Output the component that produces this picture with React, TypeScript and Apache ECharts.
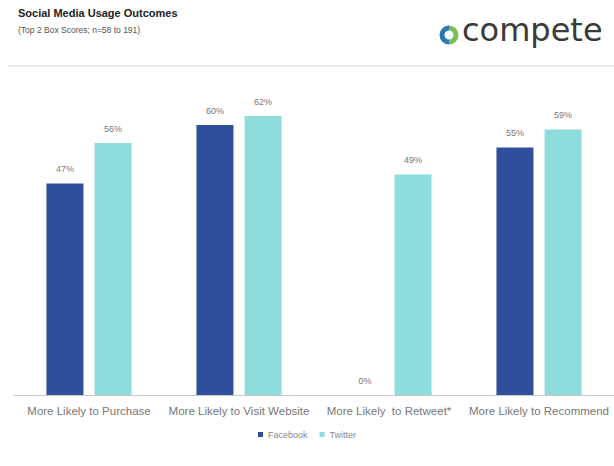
import React, { useEffect, useRef } from "react";
import * as echarts from "echarts";

const categories = [
  "More Likely to Purchase",
  "More Likely to Visit Website",
  "More Likely  to Retweet*",
  "More Likely to Recommend",
];
const facebookValues = [47, 60, 0, 55];
const twitterValues = [56, 62, 49, 59];
const seriesNames = ["Facebook", "Twitter"];

export default function App() {
  const ref = useRef<HTMLDivElement>(null);
  useEffect(() => {
    if (!ref.current) return;
    const chart = echarts.init(ref.current, null, { renderer: "svg" });
    const labelStyle = {
      show: true,
      position: "top" as const,
      formatter: "{c}%",
      color: "#777",
      fontSize: 9,
      fontFamily: "Liberation Sans",
      distance: 10,
    };
    chart.setOption({
      animation: false,
      backgroundColor: "#fff",
      grid: { left: 14, right: -3, top: 80, bottom: 71 },
      legend: {
        bottom: 22,
        left: "center",
        itemWidth: 5,
        itemHeight: 5,
        itemGap: 12,
        icon: "rect",
        textStyle: { color: "#888", fontSize: 9, fontFamily: "Liberation Sans" },
        data: seriesNames,
      },
      xAxis: {
        type: "category",
        data: categories,
        axisLine: { lineStyle: { color: "#c8c8c8" } },
        axisTick: { show: false },
        axisLabel: {
          color: "#777",
          fontSize: 11.5,
          fontFamily: "Liberation Sans",
          margin: 10,
          interval: 0,
        },
      },
      yAxis: {
        type: "value",
        min: 0,
        max: 70,
        show: false,
        splitLine: { show: false },
      },
      graphic: [
        {
          type: "text",
          left: 18,
          top: 7,
          style: {
            text: "Social Media Usage Outcomes",
            fontSize: 11,
            fontWeight: "bold",
            fill: "#222",
            fontFamily: "Liberation Sans",
          },
        },
        {
          type: "text",
          left: 18,
          top: 25,
          style: {
            text: "(Top 2 Box Scores; n=58 to 191)",
            fontSize: 8.5,
            fill: "#555",
            fontFamily: "Liberation Sans",
          },
        },
        {
          type: "line",
          shape: { x1: 8, y1: 66, x2: 614, y2: 66 },
          style: { stroke: "#d8d8d8", lineWidth: 1 },
        },
        {
          type: "arc",
          shape: { cx: 449, cy: 35, r: 7, startAngle: Math.PI / 2, endAngle: (3 * Math.PI) / 2 },
          style: { stroke: "#2a78b5", lineWidth: 5, fill: "none" },
        },
        {
          type: "arc",
          shape: { cx: 449, cy: 35, r: 7, startAngle: -Math.PI / 2, endAngle: Math.PI / 2 },
          style: { stroke: "#78bf5a", lineWidth: 5, fill: "none" },
        },
        {
          type: "text",
          left: 462,
          top: 14,
          style: {
            text: "compete",
            fontSize: 32,
            fill: "#3a3a3a",
            fontFamily: "DejaVu Sans",
          },
        },
      ],
      series: [
        {
          name: seriesNames[0],
          type: "bar",
          data: facebookValues,
          barWidth: 37,
          barGap: "30%",
          itemStyle: { color: "#2f4f9d" },
          label: labelStyle,
        },
        {
          name: seriesNames[1],
          type: "bar",
          data: twitterValues,
          barWidth: 37,
          itemStyle: { color: "#8edcdc" },
          label: labelStyle,
        },
      ],
    });
    return () => chart.dispose();
  }, []);
  return <div ref={ref} style={{ width: 614, height: 466, position: "absolute", left: 0, top: 0 }} />;
}
